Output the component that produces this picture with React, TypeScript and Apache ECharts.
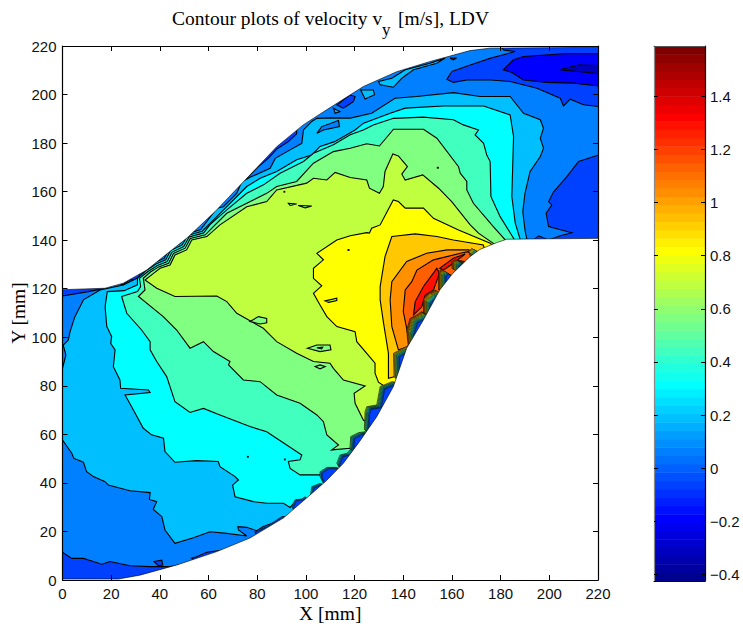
import React, { useEffect, useRef } from "react";
import * as echarts from "echarts";

type P = number[][];

const colorbarTicks = [-0.4, -0.2, 0, 0.2, 0.4, 0.6, 0.8, 1, 1.2, 1.4];
const colorbarLabels = ["\u22120.4", "\u22120.2", "0", "0.2", "0.4", "0.6", "0.8", "1", "1.2", "1.4"];
const colorbarMin = -0.4245;
const colorbarMax = 1.589;

const jet = [
  "#00008F","#00009F","#0000AF","#0000BF","#0000CF","#0000DF","#0000EF","#0000FF",
  "#0010FF","#0020FF","#0030FF","#0040FF","#0050FF","#0060FF","#0070FF","#0080FF",
  "#008FFF","#009FFF","#00AFFF","#00BFFF","#00CFFF","#00DFFF","#00EFFF","#00FFFF",
  "#10FFEF","#20FFDF","#30FFCF","#40FFBF","#50FFAF","#60FF9F","#70FF8F","#80FF80",
  "#8FFF70","#9FFF60","#AFFF50","#BFFF40","#CFFF30","#DFFF20","#EFFF10","#FFFF00",
  "#FFEF00","#FFDF00","#FFCF00","#FFBF00","#FFAF00","#FF9F00","#FF8F00","#FF8000",
  "#FF7000","#FF6000","#FF5000","#FF4000","#FF3000","#FF2000","#FF1000","#FF0000",
  "#EF0000","#DF0000","#CF0000","#BF0000","#AF0000","#9F0000","#8F0000","#800000",
];

const bandColors = ["#0040FF","#0080FF","#00BFFF","#00FFFF","#40FFBF","#80FF80","#BFFF40","#FFFF00","#FFC800","#FF9000","#FF5F00","#FF1000"];

const domain: P = [[-5,-5],[225,-5],[225,225],[-5,225]];

const band1: P = [[-5,11.4],[0,11.4],[3.8,8.9],[8.6,8.9],[16.1,6.5],[19.5,7.6],[27.7,5.9],[36,5.5],[44.2,5.5],[49.7,6.5],[53.8,7.6],[56,7],[60,5],[130,40],[200,130],[225,130],[225,225],[-5,225]];

const band2: P = [[15.4,119.5],[25,121.5],[31,124.5],[37.8,130.8],[41.8,132.5],[43.8,136.3],[48.6,138.8],[50.8,142.5],[56.8,144.4],[63.4,153.2],[66.1,153.8],[71.6,159.3],[73.6,164.1],[77.7,166.2],[85.3,169.6],[87.4,173.7],[93.5,177.2],[98.3,179.9],[99,185.4],[102.4,188.9],[104.5,190.2],[110,190.4],[118.2,190.3],[127,192.3],[136.6,198.5],[145.5,199.2],[160.6,200.8],[171.6,199.2],[183.9,199.2],[189.4,192.3],[196.3,189.6],[197.6,186.1],[196.3,182],[197.6,177.9],[196.3,174.5],[192.1,168.3],[190,159.3],[189.1,151.8],[190,144.2],[190.8,140.1],[195,135],[135,60],[100,25],[90.7,26.1],[88,24],[82.5,22],[79.8,20.3],[75.7,21.7],[72,22],[72.3,20.6],[75.7,18.1],[67.5,19.2],[60.6,19.9],[53.8,17.4],[46.2,15.1],[42.1,20.6],[40.8,26.1],[37.3,29.1],[38.7,32.3],[35.7,33.2],[36,36],[27.7,36.8],[18.8,39.1],[17.5,40.5],[12.7,42.6],[9.9,44.6],[8.6,48.5],[4.7,50.1],[3.8,52.2],[0,57.7],[-3,57.7],[-3,87.2],[0,87.2],[1.4,92.7],[0.3,96.8],[2.4,98.9],[3.1,102.3],[5.1,108.5],[8.6,115.4]];

const band3: P = [[18.4,118.8],[25.3,119.2],[30.8,121.6],[30.8,124.3],[34,127.2],[38.4,130.2],[42.4,131.9],[44.4,135.7],[49.2,138.1],[51.4,141.9],[57.4,143.7],[63.4,149.7],[67.5,153.8],[75.7,162.1],[81.2,165.5],[88,168.3],[96.2,173.1],[102.4,175.1],[105.8,178.6],[111.8,180.6],[120.2,185.4],[123.7,188.2],[134.6,192.3],[140.8,194.4],[156.5,195.3],[173,195.3],[183.9,191.6],[185.3,182.7],[184.6,158],[186,147],[188,140.4],[190,130],[130,50],[100,30],[96.2,33],[93.5,29.9],[90.8,31.6],[83.9,31.6],[78.4,32.3],[70.9,34.3],[69.9,39.1],[72.3,41.2],[70.9,42.6],[64.7,46.7],[64,48.8],[55.1,49.2],[46.2,48.5],[42.1,52.9],[41.5,58.4],[36.6,59.8],[33.2,62.5],[28.4,71.4],[25.7,76.2],[36,77.2],[35.3,78.3],[23.9,79],[23.6,82.4],[20.9,87.9],[21.6,94.8],[19.8,97.5],[20.2,100.3],[18.2,104.4],[17.5,112.6]];

const band4: P = [[24.3,116.8],[30.8,118.8],[32.1,120.9],[31.6,124.3],[35,127],[39,129.6],[43,131.2],[45,135.1],[49.8,137.4],[52,141.3],[58,143],[60.6,146.4],[67.5,152.5],[75.7,159.3],[82.6,162.8],[89.4,167.6],[99,172.4],[103.1,175.8],[111.3,179.3],[118.2,183.4],[123.6,185.4],[127.7,187.5],[136,190.2],[148.3,190.7],[160.6,189.6],[164.7,187.5],[170.9,185.4],[169.5,183.4],[173,179.9],[174.3,175.1],[175.7,172.4],[176,158],[179.8,149.7],[185.3,140.8],[190,130],[135,60],[110,35],[106.5,41.9],[105.8,43.3],[97.6,43.3],[93.5,46],[92.8,48.8],[97.6,49.5],[98.3,51.5],[92.1,55.6],[83.9,61.1],[77,63.2],[64.7,68],[57.9,70.7],[52.4,69],[46.2,73.5],[42.8,83.8],[38.7,90],[36,94.8],[36,98.2],[32.5,103],[26.4,109.9]];

const band5: P = [[31.2,116.8],[33.9,119.5],[33.2,124.3],[36,126.8],[39.5,129],[43.6,130.5],[45.6,134.5],[50.4,136.7],[52.5,140.7],[58.7,142.2],[62,145.6],[67.5,151.1],[75.7,155.2],[83.9,159.3],[88,162.1],[96.2,164.2],[103.1,171.7],[111.3,176.5],[118.2,177.9],[125,179.7],[130.2,178.8],[136,185.7],[148.3,185.7],[153.8,182],[162.7,170.3],[163.4,167.6],[166.1,164.2],[166.1,160.7],[168.8,155.2],[177,145.6],[181.9,140.1],[190,130],[135,60],[122,50],[118.1,54.3],[110.6,53.6],[113.4,55.6],[108.6,59.8],[107.2,65.2],[104.5,68],[97.6,72.8],[88,76.2],[81.2,81.7],[74.3,82.4],[68.2,88.6],[68.8,90],[62,94.1],[57.9,98.2],[52.4,95.5],[46.9,103],[41.4,108.5]];

const band6: P = [[33.9,123.6],[37,126],[40.1,128.4],[44.2,129.8],[46.2,133.9],[51,136],[53.1,140.1],[59.3,141.5],[64.7,146.3],[75.7,153.8],[83.9,155.9],[88,160.7],[100.3,163.5],[103.1,165.5],[108.6,164.8],[112,167.9],[118.2,165.8],[125,164.8],[126.1,161.4],[130.2,159.3],[131.8,162.1],[132.5,168.3],[135.7,175.5],[138,174.7],[141.7,170.3],[139.4,167.2],[140.8,164.8],[148,166.9],[154.5,161.4],[159.9,155.9],[167.5,146.3],[170.9,142.9],[177,138.7],[185,130],[140,75],[125,65],[123.6,65.9],[120.2,72.8],[119.8,76.9],[124.3,79.9],[115.4,82.4],[111.3,87.2],[109.9,89.3],[103.1,90],[96.2,93.4],[88,98.2],[82.5,103.7],[71.6,109.9],[67.5,114.7],[63.4,117],[46.2,116.8],[38.7,120.2]];

const band7: P = [[129.8,81.5],[128.4,85.2],[128.4,89.3],[125,93.4],[120.9,98.2],[120.2,102.3],[112.7,104.4],[108.6,108.5],[105.8,113.3],[103.1,118.1],[106.5,121.2],[103.1,124.3],[103.1,128.4],[107.2,131.9],[104.5,134.6],[112.7,140.1],[118.2,141.8],[125,143.1],[126.1,142.9],[127,144.9],[130.5,146.3],[135.9,156.6],[138,155.9],[140.8,153.2],[148.3,153.2],[152.4,149],[162.7,144.2],[175.7,138.7],[180,135],[135,78]];

const band8: P = [[135.3,141.5],[144.9,142.6],[153.8,141.5],[160.6,140.1],[172.9,138],[175,130],[140,85],[136.7,83.8],[133.9,83.1],[133.9,93.4],[131.9,105.8],[130.5,115.4],[130.5,120.9],[132.5,133.2]];

const band9: P = [[167,136],[158,136],[149.6,134.6],[141.4,131.2],[135.3,122.9],[134.6,115.4],[135.3,104.4],[138,94.8],[141.9,96.2],[150,100],[170,130]];

const band10: P = [[166.8,135.3],[164.7,134.9],[152.4,131.9],[145.6,127.7],[143.5,122.9],[140.8,119.5],[140,110.6],[141.4,103.7],[141.9,101],[150,100],[170,130]];

const band11a: P = [[144.2,109.2],[144.9,114.7],[148.3,120.9],[153.8,128.4],[154.9,126.4],[152.4,119.5],[149,117.4],[147.6,112.6]];
const band11b: P = [[154.9,128.4],[160.6,132.6],[165.4,134.3],[160.6,130.5],[156.5,127.7]];

const lowPatches: P[] = [
  [[-5,117],[0,117],[10.6,118.8],[17.5,120.2],[17.5,125],[-5,125]],
  [[225,175.1],[220.2,175.1],[212,172.4],[207.2,166.2],[201.7,159.8],[199.7,155.9],[201,154.5],[198.7,151.1],[199.7,145.6],[209.2,143.1],[204.5,141.8],[199.7,140.1],[195.6,141.8],[193.5,140.1],[193.5,135],[225,135]],
  [[225,195.1],[220.2,195.1],[214,195.8],[208.6,198.1],[205.8,195.3],[204.5,198.5],[194.9,202.6],[183.9,205.4],[175.9,206],[166.1,206],[160.6,205],[157.9,206.3],[160,209.5],[167.5,212.2],[175.9,215],[186,217.7],[181.2,218.4],[176,225],[225,225]],
  [[70,161],[76.4,166.2],[80.5,170.3],[84.6,173.8],[88,177.5],[92.8,180.6],[96.2,183.8],[96.3,190],[66,162]],
  [[24.3,121.5],[27.7,123.6],[30.5,123.9],[31.8,125],[31,130],[22,124]],
  [[112.7,195.7],[118.1,199.9],[120.2,199.2],[119.5,197.1],[115.4,194.4]],
  [[53,9],[55.1,9.6],[59.3,11.4],[68.9,12.8],[63.4,10.4],[55.1,7.6]],
  [[37.6,7.6],[40.8,8.2],[41.2,6.2],[39.4,5.9]],
];

const bluePatch: P = [[181,210.2],[185.3,214.3],[189.4,215.7],[205.8,216.8],[225,216.8],[225,203],[210,204.7],[199,205],[189.4,206],[184.6,209.1]];
const navyPatch: P = [[204.2,210.2],[212,212.2],[225,211.8],[225,208.1],[212,209.5]];

const skyPatches: P[] = [
  [[122.5,201.9],[127.7,201.9],[128.2,199.9],[124.3,198.2]],
  [[111.3,194.4],[114,193],[112,192.3]],
  [[129.8,205.4],[135.3,206.7],[140.8,210.2],[151,212.9],[157.2,215],[153.8,212.9],[144.2,210.2],[139.4,206.7],[135.9,203],[130.5,204]],
  [[159.2,215],[161.9,215],[160.6,214.3]],
];
const azurePatches: P[] = [
  [[104.5,184],[106.5,186.8],[113.4,189.3],[113.8,186.8],[107.2,185.4]],
];

const greenIslands: P[] = [
  [[77,106.5],[80.5,108.5],[83.9,107.8],[83.9,106],[81.2,105.5]],
  [[100.6,95.5],[104.5,96.8],[109.9,96.8],[110.3,94.8],[105.8,94.1]],
  [[103.8,87.9],[105.8,88.6],[107.9,87.9],[105.8,87]],
  [[92.8,155.2],[96.2,154.9],[93.5,154.3]],
  [[96.9,154.3],[102.4,154.1],[99.7,153.3]],
  [[154,170],[154.4,170],[154.4,169.7],[154,169.7]],
  [[91,160.1],[91.3,160.1],[91.3,159.8],[91,159.8]],
];
const mintIslands: P[] = [
  [[104.5,95.7],[106.9,95.9],[106.5,95.2]],
  [[76,50.9],[76.3,50.9],[76.3,50.6],[76,50.6]],
  [[91.2,49.8],[91.5,49.8],[91.5,49.5],[91.2,49.5]],
];
const limeIslands: P[] = [
  [[107.9,115],[112.7,116.1],[112.7,115.1],[109.3,114.4]],
  [[117.3,136.1],[117.7,136.1],[117.7,135.8],[117.3,135.8]],
];

const teeth: P[] = [
  [[79,19.9],[83.9,22],[90,26.1],[93,24],[80,17]],
  [[94.2,30.2],[95.5,33],[98.3,33.4],[99.7,34.3],[102,31],[96,27]],
  [[101.7,34.3],[102.4,38.5],[105.8,39.8],[110,38],[103,32]],
  [[105.8,42.6],[105.8,44.6],[108.6,46.4],[112.7,46.4],[115,44],[108,38]],
  [[112.7,48.1],[114,51.5],[116.8,52.2],[118.8,54.3],[122,48],[115,44]],
  [[118.1,54.3],[118.4,59.1],[121.6,60.7],[124.3,61.1],[125.7,63.9],[130,60],[122,50]],
  [[124.3,69.4],[125,71.4],[129.1,72.1],[130.5,79.7],[135.3,81.7],[145,80],[130,60],[124,62]],
  [[136.2,83.8],[136,93.4],[142,96.6],[147,96],[140,80]],
  [[141.4,103],[142.8,107.8],[144.9,108.8],[147.6,110.6],[148.3,106.5],[144.2,98.9],[142.1,95.5]],
  [[148.3,115.8],[150.4,118.1],[153.1,119.5],[154.5,117.4],[151,111.3],[148.3,110]],
  [[154.5,127],[155.8,127.8],[157.9,126.4],[158.6,124.3],[154.5,119.5]],
  [[160,131.2],[161.3,131.9],[165.4,131.2],[162,127.8],[160,128.4]],
  [[166.8,135.3],[168.1,136.6],[170.2,135.3],[167.7,133.2]],
];
const teethStart = [1, 2, 3, 3, 4, 5, 6, 8, 10, 10, 10, 10, 9];

const upperWall: P = [[-5,119.6],[0,119.6],[17.5,120.2],[25,122.3],[34.6,127.7],[41.4,133.2],[51,140.8],[62.7,151.8],[75.7,165.5],[88,178.5],[98.9,187.5],[108.5,193.7],[118.1,199.8],[123.6,203.3],[137.3,209.4],[151,213.6],[167.4,218.1],[175.6,219.1],[225,219.5],[225,230],[-5,230]];
const lowerWall: P = [[-5,0.4],[0,0.4],[23,0.4],[31.8,2],[47,6.2],[63.4,11.7],[77,17.3],[90.7,25.5],[101.7,35],[108.5,41],[115.4,48.1],[122,57],[129.1,67.3],[135.9,79.6],[141.4,95.5],[148.2,107],[155,119.5],[160.4,126.4],[167.4,133.2],[171.5,136.2],[178.4,139],[182.5,140.4],[225,140.8],[225,-10],[-5,-10]];

const layerList: { poly: P; color: string }[] = [
  { poly: domain, color: bandColors[0] },
  { poly: band1, color: bandColors[1] },
  ...lowPatches.map((poly) => ({ poly, color: bandColors[0] })),
  { poly: bluePatch, color: "#0000FF" },
  { poly: navyPatch, color: "#0000BF" },
  ...skyPatches.map((poly) => ({ poly, color: bandColors[2] })),
  { poly: band2, color: bandColors[2] },
  ...azurePatches.map((poly) => ({ poly, color: bandColors[1] })),
  { poly: band3, color: bandColors[3] },
  { poly: band4, color: bandColors[4] },
  { poly: band5, color: bandColors[5] },
  { poly: band6, color: bandColors[6] },
  ...greenIslands.map((poly) => ({ poly, color: bandColors[5] })),
  ...mintIslands.map((poly) => ({ poly, color: bandColors[4] })),
  { poly: band7, color: bandColors[7] },
  ...limeIslands.map((poly) => ({ poly, color: bandColors[6] })),
  { poly: band8, color: bandColors[8] },
  { poly: band9, color: bandColors[9] },
  { poly: band10, color: bandColors[10] },
  { poly: band11a, color: bandColors[11] },
  { poly: band11b, color: bandColors[11] },
];

const serif = "'Liberation Serif', 'Times New Roman', serif";
const sans = "'Liberation Sans', Arial, sans-serif";

export default function App() {
  const ref = useRef<HTMLDivElement>(null);
  useEffect(() => {
    const chart = echarts.init(ref.current!, undefined, { renderer: "svg" });
    const coords = (api: any, poly: P) => poly.map((p) => api.coord(p));

    const axisBase = {
      type: "value" as const,
      min: 0,
      max: 220,
      interval: 20,
      z: 6,
      splitLine: { show: false },
      axisLine: { show: true, onZero: false, lineStyle: { color: "#000", width: 1.2 } },
      axisTick: { show: true, inside: true, length: 5, lineStyle: { color: "#000", width: 1 } },
    };
    const nameStyle = { fontFamily: serif, fontSize: 19.5, color: "#000" };
    const labelStyle = { fontFamily: sans, fontSize: 15, color: "#111" };

    chart.setOption({
      animation: false,
      backgroundColor: "#fff",
      grid: [
        { left: 62.5, top: 46, width: 535.5, height: 534, containLabel: false, outerBoundsMode: "none" },
        { left: 654, top: 46, width: 51, height: 535, containLabel: false, outerBoundsMode: "none" },
      ],
      xAxis: [
        { ...axisBase, gridIndex: 0, position: "bottom", name: "X [mm]", nameLocation: "center", nameGap: 23, nameMoveOverlap: false, nameTextStyle: nameStyle, axisLabel: { ...labelStyle, margin: 6 } },
        { ...axisBase, gridIndex: 0, position: "top", axisLabel: { show: false } },
        { type: "value", gridIndex: 1, min: 0, max: 1, position: "bottom", z: 6, splitLine: { show: false }, axisTick: { show: false }, axisLabel: { show: false }, axisLine: { show: true, onZero: false, lineStyle: { color: "#000" } } },
        { type: "value", gridIndex: 1, min: 0, max: 1, position: "top", z: 6, splitLine: { show: false }, axisTick: { show: false }, axisLabel: { show: false }, axisLine: { show: true, onZero: false, lineStyle: { color: "#555" } } },
      ],
      yAxis: [
        { ...axisBase, gridIndex: 0, position: "left", name: "Y [mm]", nameLocation: "center", nameGap: 34, nameMoveOverlap: false, nameTextStyle: nameStyle, axisLabel: { ...labelStyle, margin: 6 } },
        { ...axisBase, gridIndex: 0, position: "right", axisLabel: { show: false } },
        {
          type: "value", gridIndex: 1, min: colorbarMin, max: colorbarMax, position: "right", z: 6, splitLine: { show: false },
          axisLine: { show: true, onZero: false, lineStyle: { color: "#000", width: 1.2 } },
          axisTick: { show: true, inside: true, length: 4, customValues: colorbarTicks, lineStyle: { color: "#000" } },
          axisLabel: { ...labelStyle, margin: 5, customValues: colorbarTicks, formatter: (v: number) => colorbarLabels[colorbarTicks.findIndex((t) => Math.abs(t - v) < 1e-6)] ?? "" },
        },
        {
          type: "value", gridIndex: 1, min: colorbarMin, max: colorbarMax, position: "left", z: 6, splitLine: { show: false },
          axisLine: { show: true, onZero: false, lineStyle: { color: "#888", width: 1.2 } },
          axisTick: { show: true, inside: true, length: 4, customValues: colorbarTicks, lineStyle: { color: "#000" } },
          axisLabel: { show: false },
        },
      ],
      series: [
        {
          type: "custom", name: "contours", xAxisIndex: 0, yAxisIndex: 0, clip: true, z: 2, data: layerList.map((_, i) => [i, 0]),
          renderItem: (params: any, api: any) => {
            const layer = layerList[params.dataIndex];
            return { type: "polygon", shape: { points: coords(api, layer.poly) }, style: { fill: layer.color, stroke: "#000", lineWidth: 1.1 } };
          },
        },
        {
          type: "custom", name: "wall stacks", xAxisIndex: 0, yAxisIndex: 0, clip: true, z: 3, data: teeth.map((_, i) => [i, 0]),
          renderItem: (params: any, api: any) => {
            const i = params.dataIndex;
            const pts = coords(api, teeth[i]);
            const children = [];
            for (let lv = teethStart[i], k = 0; lv >= 0; lv--, k++) {
              children.push({
                type: "polygon",
                shape: { points: pts.map((p: number[]) => [p[0] + k * 0.75, p[1] + k * 0.45]) },
                style: { fill: bandColors[lv], stroke: "#000", lineWidth: 0.6 },
              });
            }
            return { type: "group", children };
          },
        },
        {
          type: "custom", name: "walls", xAxisIndex: 0, yAxisIndex: 0, clip: true, z: 4, data: [[0, 0], [1, 0]],
          renderItem: (params: any, api: any) => ({
            type: "polygon",
            shape: { points: coords(api, params.dataIndex === 0 ? upperWall : lowerWall) },
            style: { fill: "#fff", stroke: "#000", lineWidth: 0.6 },
          }),
        },
        {
          type: "custom", name: "colorbar", xAxisIndex: 2, yAxisIndex: 2, clip: true, z: 2, data: jet.map((_, i) => [i, 0]),
          renderItem: (params: any, api: any) => {
            const i = params.dataIndex;
            const step = (colorbarMax - colorbarMin) / jet.length;
            const a = api.coord([0, colorbarMin + i * step]);
            const b = api.coord([1, colorbarMin + (i + 1) * step]);
            return { type: "rect", shape: { x: a[0], y: b[1], width: b[0] - a[0], height: a[1] - b[1] + 0.5 }, style: { fill: jet[i] } };
          },
        },
      ],
      graphic: [
        { type: "text", x: 172, y: 8, style: { text: "Contour plots of velocity v", font: `19.5px ${serif}`, fill: "#000" } },
        { type: "text", x: 382, y: 21, style: { text: "y", font: `17px ${serif}`, fill: "#000" } },
        { type: "text", x: 398, y: 8, style: { text: "[m/s], LDV", font: `19.5px ${serif}`, fill: "#000" } },
      ],
    });
    return () => chart.dispose();
  }, []);
  return <div ref={ref} style={{ position: "fixed", left: 0, top: 0, width: 743, height: 630 }} />;
}
